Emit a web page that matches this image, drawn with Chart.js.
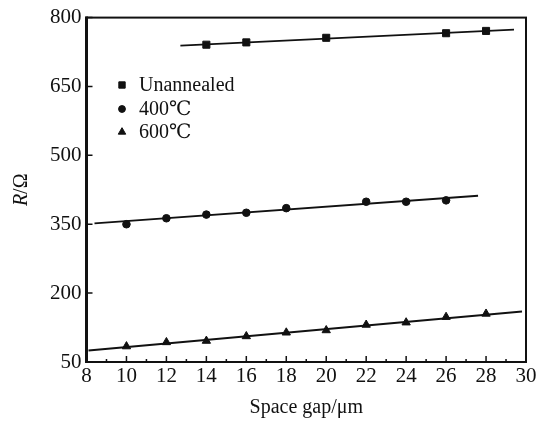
<!DOCTYPE html>
<html><head><meta charset="utf-8">
<script src="https://cdn.jsdelivr.net/npm/chart.js@4/dist/chart.umd.min.js"></script>
<style>html,body{margin:0;padding:0;background:#fff}#wrap{width:545px;height:421px}</style>
</head><body><div id="wrap"><canvas id="c" width="545" height="421"></canvas></div>
<script>
// ---- data ----
const seriesNames = ['Unannealed', '400\u2103', '600\u2103'];
const gapUnannealed = [14, 16, 20, 26, 28];
const rUnannealed   = [741, 746, 756, 766, 771];
const gap400 = [10, 12, 14, 16, 18, 22, 24, 26];
const r400   = [350, 363, 371, 375, 385, 399, 399, 402];
const gap600 = [10, 12, 14, 16, 18, 20, 22, 24, 26, 28];
const r600   = [84, 93, 96, 106, 114, 119, 131, 136, 148, 155];
// fitted straight lines (end points)
const fitUnannealedX = [12.7, 29.4], fitUnannealedY = [739, 774];
const fit400X = [8.4, 27.6],         fit400Y = [352, 412];
const fit600X = [8.1, 29.8],         fit600Y = [75, 160];
const xTickLabels = [8, 10, 12, 14, 16, 18, 20, 22, 24, 26, 28, 30];
const yTickLabels = [50, 200, 350, 500, 650, 800];
const xTitle = 'Space gap/\u03bcm';

const toPts = (xs, ys) => xs.map((v, i) => ({x: v, y: ys[i]}));
const FONT = "'Liberation Serif', 'DejaVu Serif', serif";
const INK = '#111';

const markerStyles = ['rect', 'circle', 'triangle'];
const markerRadius = [5, 3.8, 4.8];

const frameTicks = {
  id: 'frameTicks',
  afterDatasetsDraw(chart) {
    const {ctx, chartArea: {left, right, top, bottom}, scales: {x, y}} = chart;
    ctx.save();
    ctx.strokeStyle = INK;
    ctx.lineWidth = 2;
    ctx.strokeRect(left, top, right - left, bottom - top);
    ctx.lineWidth = 3;
    ctx.beginPath(); ctx.moveTo(left, top - 1); ctx.lineTo(left, bottom + 1); ctx.stroke();
    ctx.lineWidth = 1.5;
    ctx.beginPath();
    for (let v = x.min; v <= x.max; v++) {
      const px = x.getPixelForValue(v);
      const len = (v % 2 === 0) ? 6 : 3;
      ctx.moveTo(px, bottom); ctx.lineTo(px, bottom - len);
    }
    y.ticks.forEach(t => {
      const py = y.getPixelForValue(t.value);
      ctx.moveTo(left, py); ctx.lineTo(left + 6, py);
    });
    ctx.stroke();
    ctx.restore();
  }
};

const legendInside = {
  id: 'legendInside',
  afterDraw(chart) {
    const {ctx} = chart;
    ctx.save();
    const rows = [85, 109, 132];
    seriesNames.forEach((name, i) => {
      Chart.helpers.drawPoint(ctx, {pointStyle: markerStyles[i], radius: markerRadius[i] * 0.9, borderWidth: 1}, 122, rows[i]);
      ctx.fillStyle = INK;
      ctx.font = "20px " + FONT;
      ctx.textBaseline = 'middle';
      ctx.textAlign = 'left';
      ctx.fillText(name, 139, rows[i] + 1);
    });
    ctx.restore();
  },
  beforeDraw(chart) {
    chart.ctx.fillStyle = INK; chart.ctx.strokeStyle = INK;
  }
};

const yTitle = {
  id: 'yTitle',
  afterDraw(chart) {
    const {ctx, chartArea: {top, bottom}} = chart;
    ctx.save();
    ctx.translate(22, (top + bottom) / 2);
    ctx.rotate(-Math.PI / 2);
    ctx.fillStyle = INK;
    ctx.textBaseline = 'middle';
    ctx.font = "italic 20px " + FONT;
    const w1 = ctx.measureText('R').width;
    ctx.font = "20px " + FONT;
    const w2 = ctx.measureText('/\u03a9').width;
    const x0 = -(w1 + w2) / 2;
    ctx.textAlign = 'left';
    ctx.font = "italic 20px " + FONT;
    ctx.fillText('R', x0, 0);
    ctx.font = "20px " + FONT;
    ctx.fillText('/\u03a9', x0 + w1, 0);
    ctx.restore();
  }
};

const lineDs = (xs, ys) => ({
  type: 'scatter', data: toPts(xs, ys), showLine: true, pointRadius: 0,
  borderColor: INK, borderWidth: 1.8, fill: false
});
const ptDs = (xs, ys, i) => ({
  type: 'scatter', label: seriesNames[i], data: toPts(xs, ys), showLine: false,
  pointStyle: markerStyles[i], pointRadius: markerRadius[i],
  backgroundColor: INK, borderColor: INK, borderWidth: 1
});

new Chart(document.getElementById('c'), {
  type: 'scatter',
  data: {
    datasets: [
      lineDs(fitUnannealedX, fitUnannealedY),
      lineDs(fit400X, fit400Y),
      lineDs(fit600X, fit600Y),
      ptDs(gapUnannealed, rUnannealed, 0),
      ptDs(gap400, r400, 1),
      ptDs(gap600, r600, 2)
    ]
  },
  options: {
    responsive: false, animation: false, devicePixelRatio: 1,
    layout: {padding: {left: 0, top: 15, right: 19, bottom: 0}},
    plugins: {legend: {display: false}, tooltip: {enabled: false}},
    scales: {
      x: {
        type: 'linear', min: 8, max: 30,
        afterBuildTicks: s => { s.ticks = xTickLabels.map(v => ({value: v})); },
        afterFit: s => { s.height = 59; },
        grid: {display: false, drawTicks: false},
        border: {display: false},
        ticks: {color: INK, font: {family: FONT, size: 21}, padding: 2, maxRotation: 0, autoSkip: false},
        title: {display: true, text: xTitle, color: INK, font: {family: FONT, size: 20}, padding: {top: 0, bottom: 1}}
      },
      y: {
        type: 'linear', min: 50, max: 800,
        afterBuildTicks: s => { s.ticks = yTickLabels.map(v => ({value: v})); },
        afterFit: s => { s.width = 86.5; },
        grid: {display: false, drawTicks: false},
        border: {display: false},
        ticks: {color: INK, font: {family: FONT, size: 21}, padding: 5, autoSkip: false}
      }
    }
  },
  plugins: [frameTicks, legendInside, yTitle]
});
</script></body></html>
